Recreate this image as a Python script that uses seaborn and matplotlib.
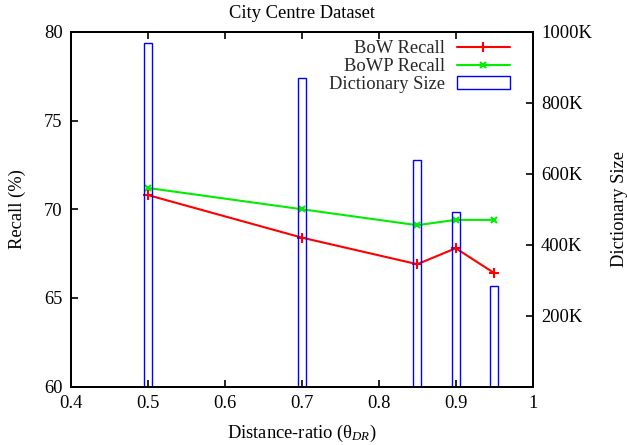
import matplotlib
matplotlib.use("Agg")
import matplotlib.pyplot as plt
import seaborn as sns
import pandas as pd
from matplotlib.ticker import FuncFormatter

ratios = [0.5, 0.7, 0.85, 0.9, 0.95]
bow_recall = [70.8, 68.4, 66.9, 67.8, 66.4]
bowp_recall = [71.2, 70.0, 69.1, 69.4, 69.4]
dict_size = [968000, 870000, 639000, 492000, 284000]

sns.set_theme(style="white")
plt.rcParams['font.family'] = ['Liberation Serif', 'DejaVu Serif']
plt.rcParams['mathtext.fontset'] = 'custom'
plt.rcParams['mathtext.rm'] = 'Liberation Serif'
plt.rcParams['mathtext.it'] = 'Liberation Serif:italic'
fs = 13.3

fig = plt.figure(figsize=(6.27, 4.45), dpi=100)
ax = fig.add_axes([71/627, 1-386.5/445, (532.7-71)/627, (386.5-32)/445])
ax2 = ax.twinx()

df = pd.DataFrame({'ratio': ratios, 'bow': bow_recall, 'bowp': bowp_recall, 'size': dict_size})

red = '#ff0000'
green = '#00ee00'
blue = '#0000ff'
sns.lineplot(data=df, x='ratio', y='bow', ax=ax, color=red, marker='+',
             markersize=7, markeredgewidth=1.5, markeredgecolor=red, linewidth=1.5,
             label='BoW Recall', legend=False)
sns.lineplot(data=df, x='ratio', y='bowp', ax=ax, color=green, marker='x',
             markersize=5, markeredgewidth=1.5, markeredgecolor=green, linewidth=1.5,
             label='BoWP Recall', legend=False)

ax2.bar(df['ratio'], df['size'], width=0.01, facecolor='none', edgecolor=blue,
        linewidth=1.0, label='Dictionary Size')

ax.set_xlim(0.4, 1.0)
ax.set_ylim(60, 80)
ax2.set_ylim(0, 1000000)
ax.set_xticks([0.4, 0.5, 0.6, 0.7, 0.8, 0.9, 1.0])
ax.set_xticklabels(['0.4', '0.5', '0.6', '0.7', '0.8', '0.9', '1'])
ax.set_yticks([60, 65, 70, 75, 80])
ax2.set_yticks([200000, 400000, 600000, 800000, 1000000])
ax2.yaxis.set_major_formatter(FuncFormatter(lambda v, p: f"{int(v/1000)}K"))

for a in (ax, ax2):
    for s in a.spines.values():
        s.set_color('black')
        s.set_linewidth(1.4)
        s.set_visible(True)
ax.tick_params(axis='x', direction='in', length=5, width=1.2, top=True, bottom=True,
               labelsize=fs, pad=6, colors='black')
ax.tick_params(axis='y', direction='in', length=5, width=1.2, left=True, right=False,
               labelsize=fs, pad=6, colors='black')
ax2.tick_params(axis='y', direction='in', length=5, width=1.2, right=True, left=False,
                labelsize=fs, pad=6, colors='black')

ax.set_xlabel(r'Distance-ratio ($\mathrm{\theta}_{DR}$)', fontsize=fs, labelpad=8, color='black')
ax.set_ylabel('Recall (%)', fontsize=fs, labelpad=13, color='black')
ax2.set_ylabel('Dictionary Size', fontsize=fs, labelpad=14, color='black')
ax.set_title('City Centre Dataset', fontsize=fs, pad=10, color='black')

h1, lab1 = ax.get_legend_handles_labels()
h2, lab2 = ax2.get_legend_handles_labels()
ax2.legend(h1 + h2, lab1 + lab2, loc='upper right', frameon=False, markerfirst=False,
           fontsize=fs, handlelength=2.9, handletextpad=0.6, labelspacing=0.05,
           borderaxespad=0.9, bbox_to_anchor=(1.003, 1.045))

fig.savefig('out.png', dpi=100)
